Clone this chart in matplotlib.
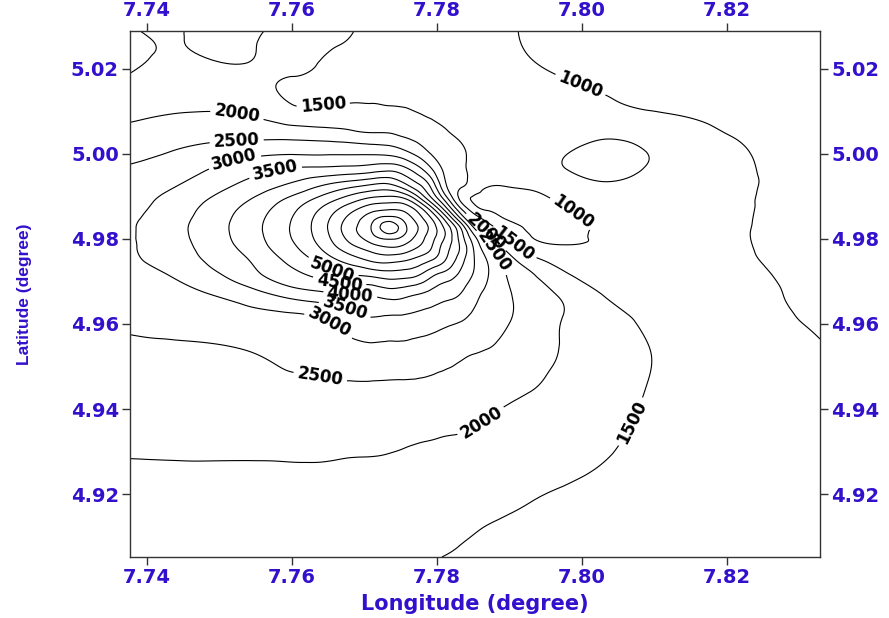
import numpy as np
import matplotlib
matplotlib.use('Agg')
import matplotlib.pyplot as plt
import matplotlib.tri as mtri

# grid columns (longitude, degree) and rows (latitude, degree)
longitude = [7.7377, 7.7432, 7.7535, 7.7597, 7.7646, 7.7683, 7.7710, 7.7734,
             7.7754, 7.7774, 7.7793, 7.7812, 7.7832, 7.7851, 7.7870, 7.7894,
             7.7928, 7.7977, 7.8032, 7.8094, 7.8170, 7.8218, 7.8328]
latitude = [5.0289, 5.0198, 5.0115, 5.0052, 5.0005, 4.9962, 4.9927, 4.9896,
            4.9871, 4.9847, 4.9828, 4.9807, 4.9781, 4.9751, 4.9713, 4.9668,
            4.9609, 4.9539, 4.9445, 4.9327, 4.9186, 4.9052]

# estimated values along each latitude row (west -> east)
z_50289 = [1470, 1515, 1455, 1540, 1535, 1505, 1453, 1400, 1355, 1310, 1265, 1220, 1175, 1130, 1090, 1030, 980, 930, 890, 860, 835, 825, 810]
z_50198 = [1480, 1580, 1530, 1540, 1460, 1430, 1410, 1390, 1360, 1330, 1300, 1270, 1240, 1200, 1160, 1110, 1040, 970, 945, 920, 890, 875, 860]
z_50115 = [1800, 1900, 1850, 1520, 1505, 1515, 1510, 1495, 1485, 1440, 1420, 1420, 1380, 1340, 1290, 1230, 1170, 1080, 1020, 985, 955, 920, 880]
z_50052 = [2110, 2220, 2300, 2230, 2150, 2050, 1970, 1960, 1860, 1770, 1620, 1520, 1440, 1380, 1310, 1240, 1160, 1070, 1020, 1030, 1020, 975, 900]
z_50005 = [2350, 2500, 2820, 2900, 2890, 2880, 2860, 2800, 2600, 2280, 1920, 1720, 1560, 1420, 1300, 1220, 1130, 1010, 965, 1005, 1040, 1018, 895]
z_49962 = [2560, 2740, 3290, 3570, 3660, 3730, 3830, 3930, 3720, 3230, 2560, 1880, 1600, 1400, 1260, 1170, 1090, 1005, 955, 1012, 1050, 1035, 895]
z_49927 = [2700, 2930, 3600, 4060, 4510, 4820, 5030, 5080, 4670, 4080, 3290, 2050, 1590, 1250, 1030, 1020, 1040, 1060, 1020, 1060, 1080, 1045, 900]
z_49896 = [2790, 3110, 3900, 4550, 5190, 5720, 6050, 6140, 6000, 5170, 4000, 2700, 1410, 960, 930, 910, 930, 1040, 1080, 1120, 1130, 1043, 900]
z_49871 = [2870, 3200, 4090, 4830, 5630, 6340, 6790, 6930, 6850, 6270, 5170, 3700, 2100, 1190, 950, 920, 910, 990, 1090, 1140, 1150, 1045, 900]
z_49847 = [2920, 3270, 4190, 4960, 5860, 6730, 7350, 7750, 7410, 6770, 6000, 4800, 3120, 1850, 1350, 1000, 930, 940, 1080, 1150, 1160, 1040, 900]
z_49828 = [2950, 3310, 4220, 5000, 5920, 6860, 7530, 8300, 7680, 7000, 6280, 5330, 4000, 2430, 1670, 1260, 950, 920, 1050, 1150, 1160, 1036, 900]
z_49807 = [2955, 3300, 4200, 4980, 5860, 6770, 7380, 7790, 7480, 6860, 6200, 5460, 4300, 3080, 2140, 1520, 1010, 930, 1060, 1150, 1170, 1033, 900]
z_49781 = [2940, 3280, 4120, 4860, 5660, 6390, 6780, 7010, 6890, 6500, 6000, 5220, 4460, 3440, 2620, 1890, 1230, 1040, 1080, 1160, 1180, 1042, 905]
z_49751 = [2900, 3220, 3950, 4620, 5260, 5770, 6100, 6190, 6080, 5840, 5520, 5000, 4250, 3520, 2960, 2330, 1680, 1330, 1300, 1230, 1200, 1060, 915]
z_49713 = [2830, 3000, 3750, 4300, 4690, 4950, 5050, 5190, 5150, 4980, 4550, 4250, 3880, 3440, 3020, 2530, 2100, 1560, 1400, 1280, 1200, 1095, 935]
z_49668 = [2720, 2850, 3220, 3650, 3860, 3980, 4030, 4180, 4120, 3970, 3810, 3640, 3480, 3140, 2880, 2600, 2280, 1900, 1480, 1320, 1230, 1115, 945]
z_49609 = [2580, 2640, 2790, 2830, 3000, 3300, 3450, 3400, 3380, 3320, 3230, 3120, 3030, 2880, 2740, 2560, 2310, 1970, 1690, 1420, 1290, 1150, 975]
z_49539 = [2430, 2450, 2500, 2620, 2730, 2830, 2870, 2850, 2860, 2810, 2760, 2690, 2600, 2540, 2490, 2370, 2190, 1960, 1750, 1500, 1310, 1210, 1020]
z_49445 = [2280, 2290, 2320, 2360, 2400, 2430, 2430, 2420, 2410, 2400, 2380, 2340, 2310, 2250, 2170, 2090, 2010, 1860, 1680, 1480, 1330, 1260, 1100]
z_49327 = [2070, 2080, 2090, 2100, 2110, 2100, 2100, 2080, 2050, 2020, 2000, 1975, 1960, 1920, 1880, 1840, 1790, 1700, 1560, 1420, 1330, 1270, 1130]
z_49186 = [1900, 1890, 1870, 1850, 1830, 1800, 1780, 1760, 1740, 1720, 1700, 1680, 1650, 1620, 1590, 1560, 1510, 1440, 1380, 1320, 1260, 1230, 1150]
z_49052 = [1880, 1860, 1820, 1760, 1710, 1660, 1620, 1590, 1560, 1540, 1515, 1495, 1470, 1440, 1410, 1380, 1350, 1310, 1280, 1240, 1200, 1185, 1140]

xticks = [7.74, 7.76, 7.78, 7.80, 7.82]
yticks = [4.92, 4.94, 4.96, 4.98, 5.00, 5.02]

rows = [z_50289, z_50198, z_50115, z_50052, z_50005, z_49962, z_49927, z_49896,
        z_49871, z_49847, z_49828, z_49807, z_49781, z_49751, z_49713, z_49668,
        z_49609, z_49539, z_49445, z_49327, z_49186, z_49052]
field = np.array(rows, dtype=float)

blue = '#3311cc'
plt.rcParams['font.family'] = ['DejaVu Sans']
plt.rcParams['font.weight'] = 'bold'

fig = plt.figure(figsize=(8.89, 6.18), dpi=100)
ax = fig.add_axes([130 / 889, 1 - 557 / 618, 690 / 889, 526 / 618])

# triangulate the grid, smooth with the cubic interpolator
nx, ny = len(longitude), len(latitude)
lon_g, lat_g = np.meshgrid(longitude, latitude)
tris = []
for j in range(ny - 1):
    for i in range(nx - 1):
        a = j * nx + i
        tris.append([a, a + 1, a + nx + 1])
        tris.append([a, a + nx + 1, a + nx])
triang = mtri.Triangulation(lon_g.ravel(), lat_g.ravel(), tris)
interp = mtri.CubicTriInterpolator(triang, field.ravel(), kind='min_E')
refiner = mtri.UniformTriRefiner(triang)
tri_f, z_f = refiner.refine_field(field.ravel(), triinterpolator=interp, subdiv=4)

levels = np.arange(1000, 8001, 500)
cs = ax.tricontour(tri_f, z_f, levels=levels, colors='k', linewidths=0.8)

label_spots = [(7.7524, 5.0087), (7.7524, 5.0031), (7.7521, 4.9984), (7.7577, 4.9962),
               (7.7643, 5.0118), (7.7997, 5.0158), (7.7988, 4.9864),
               (7.7869, 4.9819), (7.7910, 4.9795), (7.7876, 4.9767),
               (7.7657, 4.9732), (7.7666, 4.9701), (7.7680, 4.9671), (7.7673, 4.9635),
               (7.7652, 4.9602), (7.7640, 4.9485), (7.7859, 4.9374), (7.8069, 4.9369)]
ax.clabel(cs, levels=levels, fmt='%d', fontsize=12, inline=True,
          inline_spacing=4, manual=label_spots)

ax.set_xlim(longitude[0], longitude[-1])
ax.set_ylim(latitude[-1], latitude[0])
ax.set_xticks(xticks)
ax.set_yticks(yticks)
ax.set_xticklabels(['%.2f' % v for v in xticks])
ax.set_yticklabels(['%.2f' % v for v in yticks])
ax.tick_params(axis='both', direction='out', length=6, width=1, color='#333333',
               top=True, right=True, labeltop=True, labelright=True,
               labelsize=14, labelcolor=blue, pad=2)
for s in ax.spines.values():
    s.set_linewidth(1.0)
    s.set_color('#333333')

ax.set_xlabel('Longitude (degree)', fontsize=15, color=blue, fontweight='bold', va='center')
ax.xaxis.set_label_coords(0.5, -(604 - 557) / 526)
ax.set_ylabel('Latitude (degree)', fontsize=12.5, color=blue, fontweight='bold', va='center',
              family=['Liberation Sans Narrow', 'Liberation Sans', 'DejaVu Sans'])
ax.yaxis.set_label_coords(-(130 - 25) / 690, 0.5)

fig.savefig('out.png', dpi=100)
